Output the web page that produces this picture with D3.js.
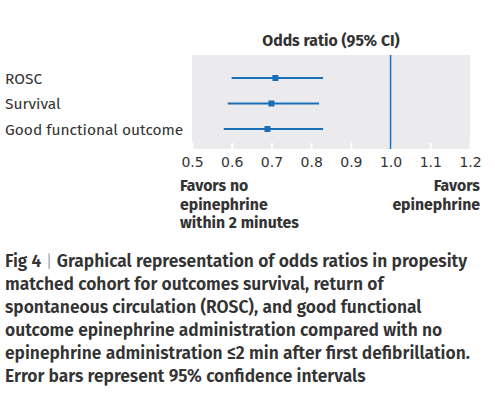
<!DOCTYPE html>
<html>
<head>
<meta charset="utf-8">
<script src="https://cdn.jsdelivr.net/npm/d3@7"></script>
<style>
  body { margin: 0; background: #fff; }
  svg { display: block; }
  text { fill: #333; font-family: "Fira Sans", "Noto Sans", sans-serif; }
</style>
</head>
<body>
<div id="chart"></div>
<script>
// data
var outcomes = ["ROSC", "Survival", "Good functional outcome"];
var oddsRatio = [0.71, 0.70, 0.69];
var ciLow = [0.60, 0.59, 0.58];
var ciHigh = [0.83, 0.82, 0.83];
var tickValues = [0.5, 0.6, 0.7, 0.8, 0.9, 1.0, 1.1, 1.2];
var leftNote = ["Favors no", "epinephrine", "within 2 minutes"];
var rightNote = ["Favors", "epinephrine"];
var captionLines = [
  "Graphical representation of odds ratios in propesity",
  "matched cohort for outcomes survival, return of",
  "spontaneous circulation (ROSC), and good functional",
  "outcome epinephrine administration compared with no",
  "epinephrine administration \u22642 min after first defibrillation.",
  "Error bars represent 95% confidence intervals"
];

var width = 495, height = 396;
var blue = "#1a70b8";

var svg = d3.select("#chart").append("svg")
  .attr("width", width)
  .attr("height", height);

var x = d3.scaleLinear().domain([0.5, 1.2]).range([192, 470]);
var y = d3.scalePoint().domain(outcomes).range([78, 129]);

// panel
svg.append("rect")
  .attr("x", x(0.5))
  .attr("y", 55)
  .attr("width", x(1.2) - x(0.5))
  .attr("height", 94)
  .attr("fill", "#ebebee");

// axis
var axis = d3.axisBottom(x)
  .tickValues(tickValues)
  .tickFormat(d3.format(".1f"))
  .tickSize(6)
  .tickPadding(6);

var axisG = svg.append("g")
  .attr("transform", "translate(0,143)")
  .call(axis);
axisG.select(".domain").remove();
axisG.selectAll(".tick line").attr("stroke", "#fff").attr("stroke-width", 2);
axisG.selectAll(".tick text")
  .attr("fill", "#3a3a3a")
  .style("font-family", "'DejaVu Sans', sans-serif")
  .style("font-size", "14px")
  .attr("dy", null)
  .attr("y", 24);

// reference line at 1
svg.append("line")
  .attr("x1", x(1)).attr("x2", x(1))
  .attr("y1", 55).attr("y2", 149)
  .attr("stroke", blue)
  .attr("stroke-width", 1.5);

// title
svg.append("text")
  .attr("x", 331)
  .attr("y", 46)
  .attr("text-anchor", "middle")
  .style("font-size", "15.8px")
  .style("font-weight", 700)
  .text("Odds ratio (95% CI)");

// rows
var rows = svg.append("g").selectAll("g")
  .data(outcomes)
  .enter().append("g");

rows.append("line")
  .attr("x1", (d, i) => x(ciLow[i]))
  .attr("x2", (d, i) => x(ciHigh[i]))
  .attr("y1", d => y(d))
  .attr("y2", d => y(d))
  .attr("stroke", blue)
  .attr("stroke-width", 2);

rows.append("rect")
  .attr("x", (d, i) => x(oddsRatio[i]) - 3)
  .attr("y", d => y(d) - 3)
  .attr("width", 6)
  .attr("height", 6)
  .attr("fill", blue);

rows.append("text")
  .attr("x", 5)
  .attr("y", d => y(d) + 5.5)
  .style("font-size", "15.5px")
  .text(d => d);

// favours notes
svg.append("g").selectAll("text")
  .data(leftNote)
  .enter().append("text")
  .attr("x", 180)
  .attr("y", (d, i) => 191 + i * 18.5)
  .style("font-size", "15.8px")
  .style("font-weight", 700)
  .text(d => d);

svg.append("g").selectAll("text")
  .data(rightNote)
  .enter().append("text")
  .attr("x", 480)
  .attr("y", (d, i) => 191 + i * 18.5)
  .attr("text-anchor", "end")
  .style("font-size", "15.8px")
  .style("font-weight", 700)
  .text(d => d);

// caption
var cap = svg.append("g").selectAll("text")
  .data(captionLines)
  .enter().append("text")
  .attr("x", 5)
  .attr("y", (d, i) => 267 + i * 23)
  .style("font-size", "17.4px")
  .style("font-weight", 600);

cap.each(function(d, i) {
  var t = d3.select(this);
  if (i === 0) {
    t.append("tspan").text("Fig 4 ");
    t.append("tspan").attr("fill", "#888").style("font-weight", 300).text("|");
    t.append("tspan").text(" " + d);
  } else {
    t.text(d);
  }
});
</script>
</body>
</html>
